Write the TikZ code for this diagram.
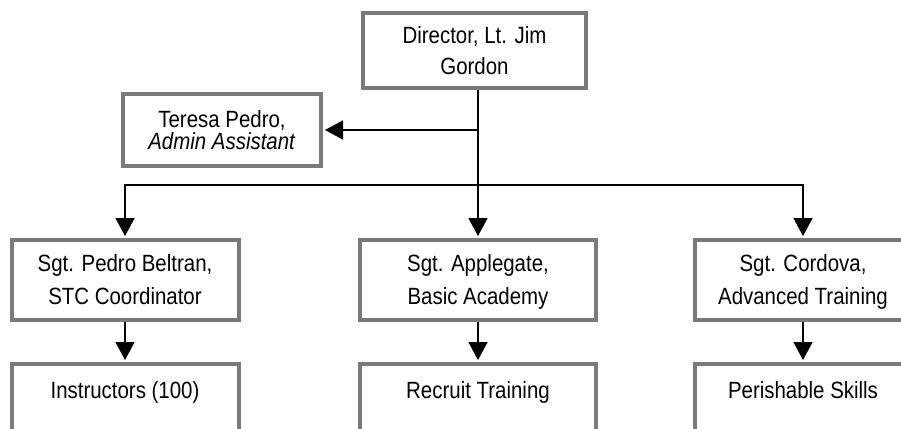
\documentclass[tikz,border=0pt]{standalone}
\usepackage{fontspec}
\setmainfont{Liberation Sans}[FakeStretch=0.87]
\usetikzlibrary{arrows.meta}
\definecolor{boxgray}{RGB}{122,122,122}
\begin{document}
\begin{tikzpicture}[x=1pt,y=-1pt,
  box/.style={draw=boxgray, line width=4pt, fill=white, inner sep=0pt, align=center},
  twoline/.style={font=\fontsize{23.5}{33}\selectfont, minimum height=80pt},
  lowbox/.style={anchor=north, text height=34.5pt, text depth=60pt, font=\fontsize{23.5}{28}\selectfont},
  arr/.style={line width=1.6pt, -{Triangle[width=19pt,length=18pt]}, shorten >=2pt}]
\useasboundingbox (0,0) rectangle (901,428);
\clip (0,0) rectangle (901,428);
\fill[white] (0,0) rectangle (901,428);

\node[box, minimum width=223pt, minimum height=75pt, font=\fontsize{23.5}{31.5}\selectfont] (dir) at (474.5,50.5) {Director, Lt. Jim\\Gordon};
\node[box, minimum width=198pt, minimum height=72pt, font=\fontsize{23.5}{22.5}\selectfont] (tp) at (222,130) {Teresa Pedro,\\\textit{Admin Assistant}};

\node[box, twoline, minimum width=227pt] (belt) at (125,280) {Sgt. Pedro Beltran,\\STC Coordinator};
\node[box, twoline, minimum width=236pt] (app) at (478,280) {Sgt. Applegate,\\Basic Academ\smash{y}};
\node[box, twoline, minimum width=216pt] (cord) at (803,280) {Sgt. Cordova,\\Advanced Trainin\smash{g}};

\node[box, lowbox, minimum width=227pt] (instr) at (125,362) {Instructors (100)};
\node[box, lowbox, minimum width=236pt] (recr) at (478,362) {Recruit Training};
\node[box, lowbox, minimum width=216pt] (peri) at (803,362) {Perishable Skills};

\coordinate (top) at (dir.south -| app.north);
\coordinate (bus) at (478,185);
\draw[arr] (top) -- (app.north);
\draw[arr] (top |- tp.east) -- (tp.east);
\draw[arr] (bus) -| (belt.north);
\draw[arr] (bus) -| (cord.north);

\draw[arr] (belt.south) -- (instr.north);
\draw[arr] (app.south) -- (recr.north);
\draw[arr] (cord.south) -- (peri.north);
\end{tikzpicture}
\end{document}
